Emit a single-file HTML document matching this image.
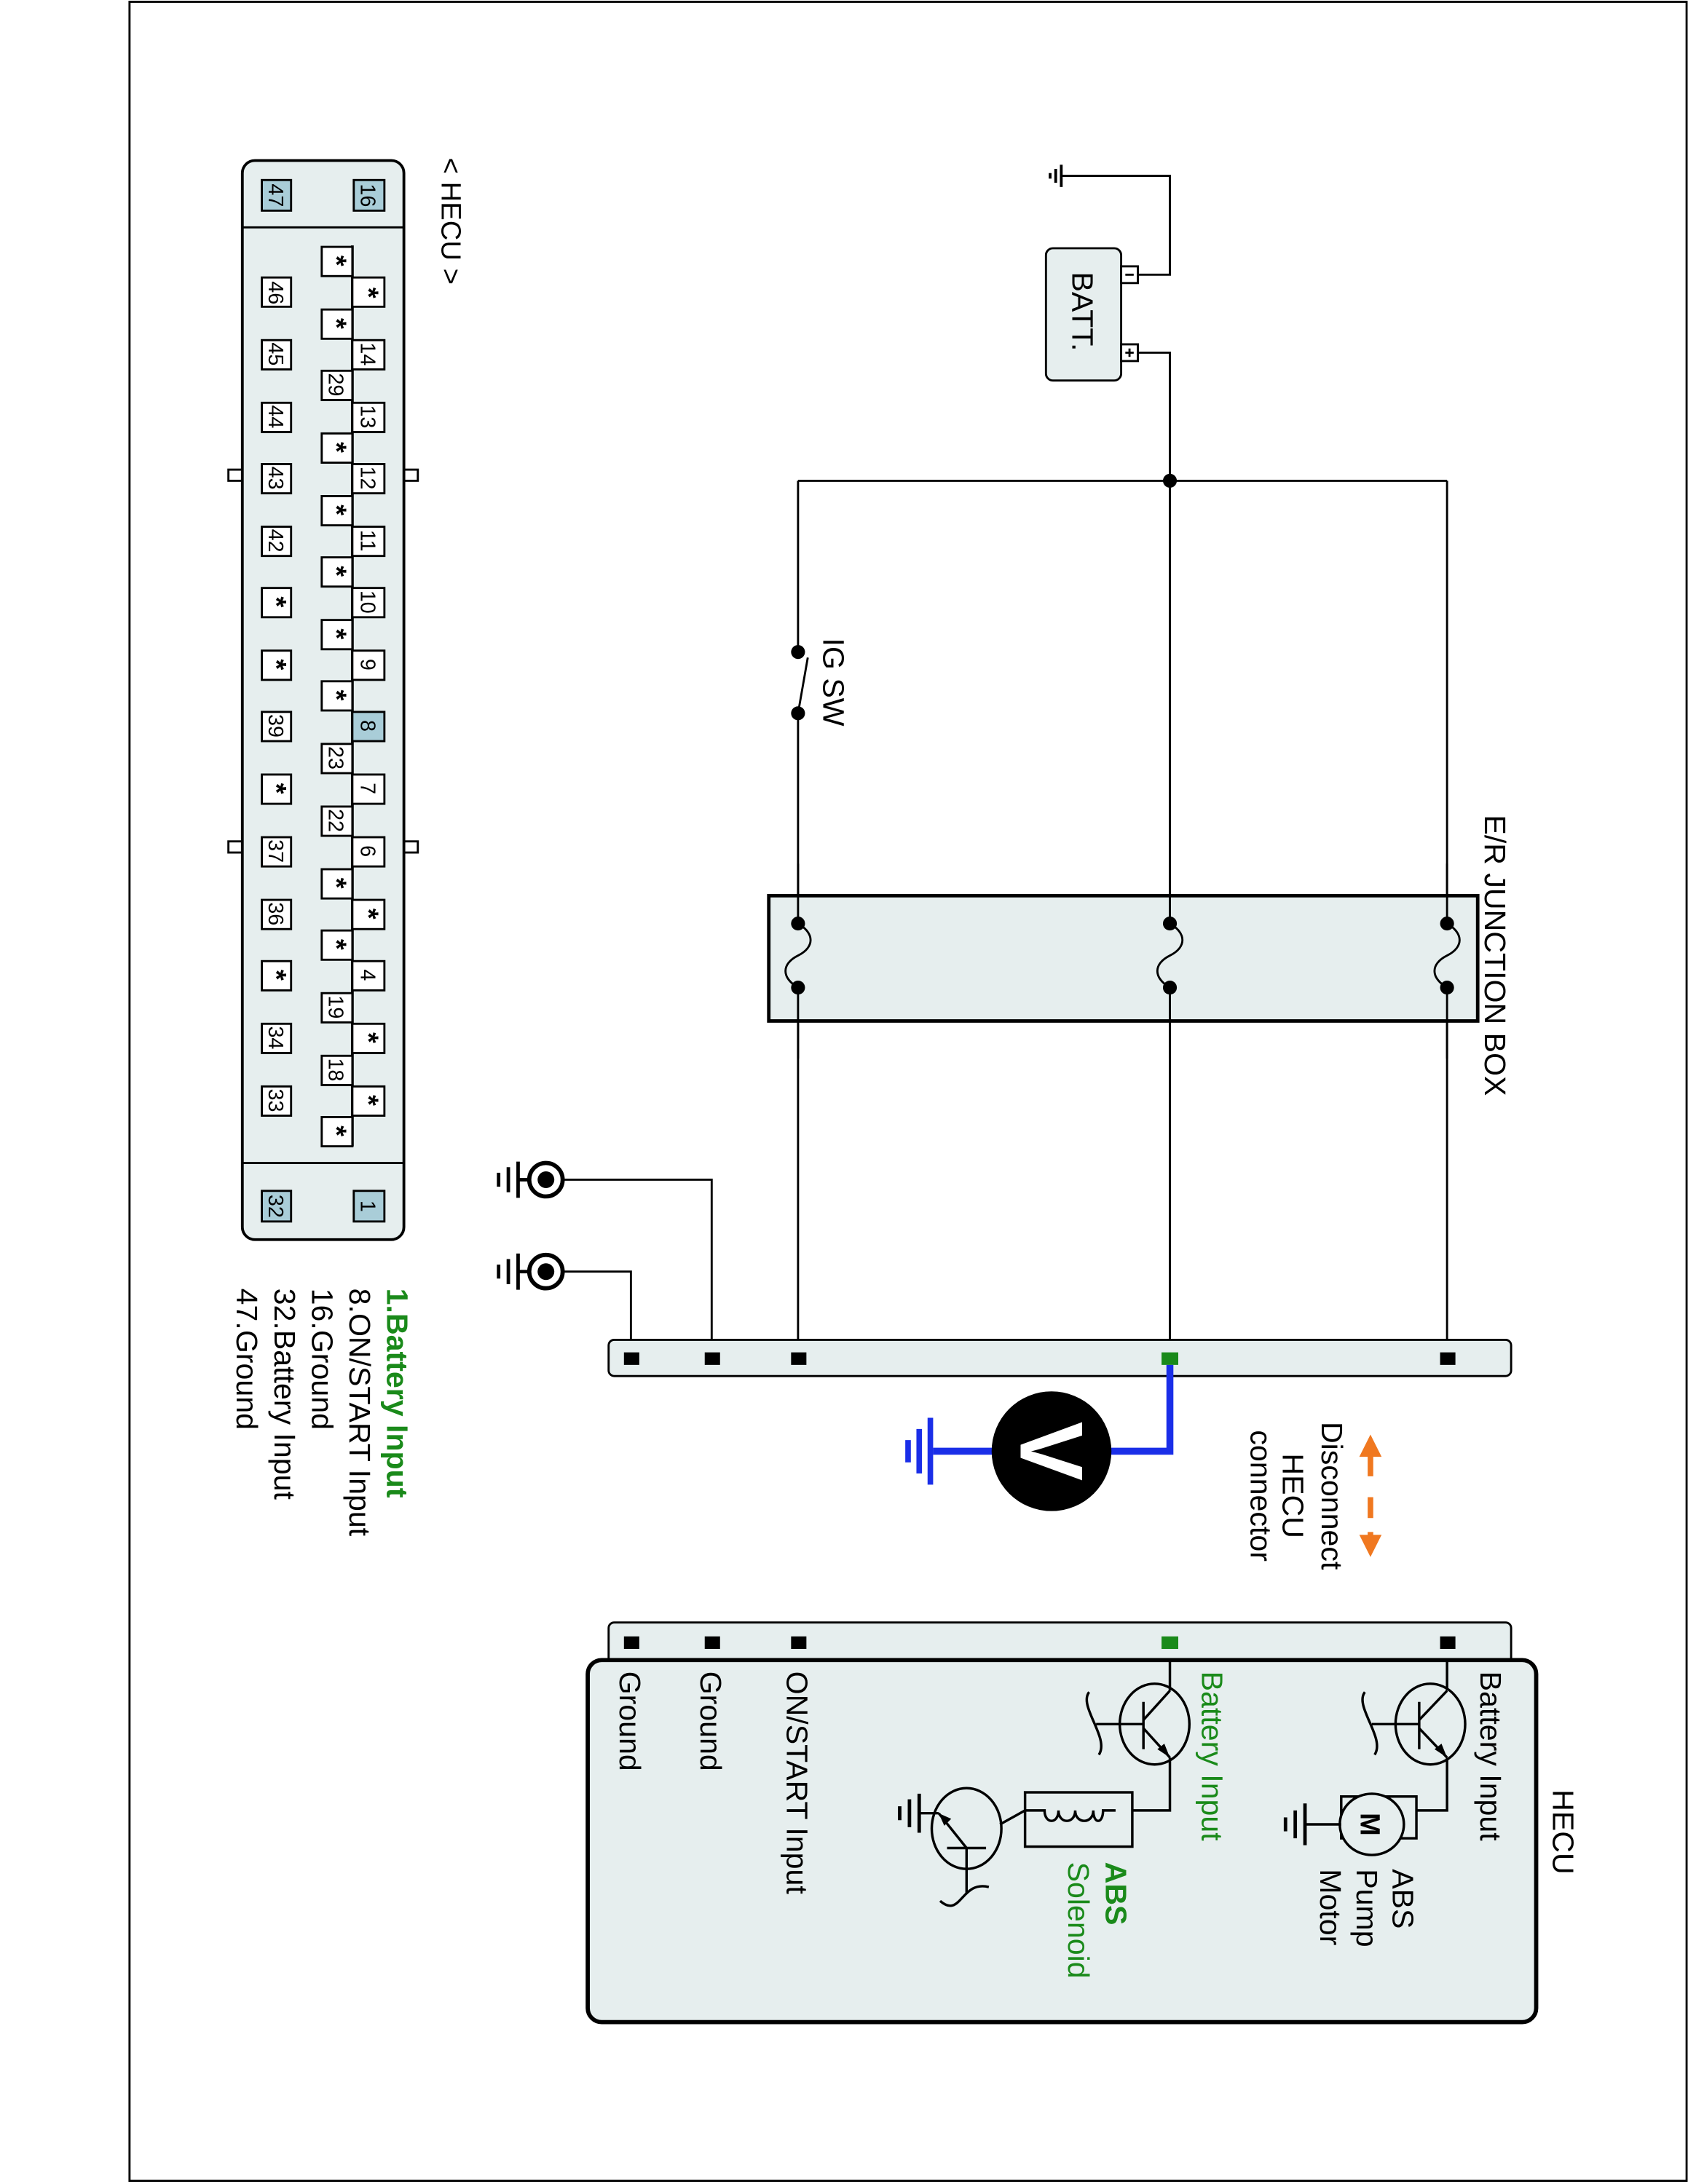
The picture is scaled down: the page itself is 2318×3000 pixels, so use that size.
<!DOCTYPE html>
<html><head><meta charset="utf-8"><style>
html,body{margin:0;padding:0;background:#fff;}
svg{display:block;}
text{font-family:"Liberation Sans",Arial,sans-serif;}
</style></head><body>
<svg width="2318" height="3000" viewBox="0 0 1212 1568" xmlns="http://www.w3.org/2000/svg">
<rect x="0" y="0" width="1212" height="1568" fill="#fff"/>
<rect x="93" y="1" width="1118" height="1565" fill="none" stroke="#000" stroke-width="1.5"/>

<g stroke="#000" stroke-width="1.5">
<rect x="164" y="337" width="10" height="8" fill="#fff"/>
<rect x="164" y="604" width="10" height="8" fill="#fff"/>
<rect x="290" y="337" width="10" height="8" fill="#fff"/>
<rect x="290" y="604" width="10" height="8" fill="#fff"/>
<rect x="174" y="115" width="116" height="775" rx="9" fill="#e6eeee" stroke-width="2"/>
<line x1="174" y1="163" x2="290" y2="163"/>
<line x1="174" y1="835" x2="290" y2="835"/>
<line x1="253" y1="176" x2="253" y2="823" stroke-width="2"/>
</g>
<g stroke="#000" stroke-width="1.5" fill="#fff">
<rect x="254" y="129" width="22" height="22" fill="#a9cdd8"/>
<rect x="188" y="129" width="21" height="22" fill="#a9cdd8"/>
<rect x="254" y="855" width="22" height="22" fill="#a9cdd8"/>
<rect x="188" y="855" width="21" height="22" fill="#a9cdd8"/>
<rect x="253" y="199" width="23" height="21"/><rect x="253" y="244" width="23" height="21"/><rect x="253" y="289" width="23" height="21"/><rect x="253" y="333" width="23" height="21"/><rect x="253" y="378" width="23" height="21"/><rect x="253" y="422" width="23" height="21"/><rect x="253" y="467" width="23" height="21"/><rect x="253" y="511" width="23" height="21" fill="#a9cdd8"/><rect x="253" y="556" width="23" height="21"/><rect x="253" y="601" width="23" height="21"/><rect x="253" y="646" width="23" height="21"/><rect x="253" y="690" width="23" height="21"/><rect x="253" y="735" width="23" height="21"/><rect x="253" y="780" width="23" height="21"/>
<rect x="231" y="177" width="22" height="21"/><rect x="231" y="222" width="22" height="21"/><rect x="231" y="266" width="22" height="21"/><rect x="231" y="311" width="22" height="21"/><rect x="231" y="356" width="22" height="21"/><rect x="231" y="400" width="22" height="21"/><rect x="231" y="445" width="22" height="21"/><rect x="231" y="489" width="22" height="21"/><rect x="231" y="534" width="22" height="21"/><rect x="231" y="579" width="22" height="21"/><rect x="231" y="624" width="22" height="21"/><rect x="231" y="668" width="22" height="21"/><rect x="231" y="713" width="22" height="21"/><rect x="231" y="758" width="22" height="21"/><rect x="231" y="802" width="22" height="21"/>
<rect x="188" y="199" width="21" height="21"/><rect x="188" y="244" width="21" height="21"/><rect x="188" y="289" width="21" height="21"/><rect x="188" y="333" width="21" height="21"/><rect x="188" y="378" width="21" height="21"/><rect x="188" y="422" width="21" height="21"/><rect x="188" y="467" width="21" height="21"/><rect x="188" y="511" width="21" height="21"/><rect x="188" y="556" width="21" height="21"/><rect x="188" y="601" width="21" height="21"/><rect x="188" y="646" width="21" height="21"/><rect x="188" y="690" width="21" height="21"/><rect x="188" y="735" width="21" height="21"/><rect x="188" y="780" width="21" height="21"/>
</g>
<g font-size="15" text-anchor="middle" fill="#000">
<text transform="translate(259,140) rotate(90)">16</text>
<text transform="translate(193,140) rotate(90)">47</text>
<text transform="translate(259,866) rotate(90)">1</text>
<text transform="translate(193,866) rotate(90)">32</text>
<text transform="translate(259,254) rotate(90)">14</text>
<text transform="translate(259,299) rotate(90)">13</text>
<text transform="translate(259,343) rotate(90)">12</text>
<text transform="translate(259,388) rotate(90)">11</text>
<text transform="translate(259,432) rotate(90)">10</text>
<text transform="translate(259,477) rotate(90)">9</text>
<text transform="translate(259,521) rotate(90)">8</text>
<text transform="translate(259,566) rotate(90)">7</text>
<text transform="translate(259,611) rotate(90)">6</text>
<text transform="translate(259,700) rotate(90)">4</text>
<text transform="translate(236,276) rotate(90)">29</text>
<text transform="translate(236,544) rotate(90)">23</text>
<text transform="translate(236,589) rotate(90)">22</text>
<text transform="translate(236,723) rotate(90)">19</text>
<text transform="translate(236,768) rotate(90)">18</text>
<text transform="translate(193,210) rotate(90)">46</text>
<text transform="translate(193,254) rotate(90)">45</text>
<text transform="translate(193,299) rotate(90)">44</text>
<text transform="translate(193,343) rotate(90)">43</text>
<text transform="translate(193,388) rotate(90)">42</text>
<text transform="translate(193,521) rotate(90)">39</text>
<text transform="translate(193,611) rotate(90)">37</text>
<text transform="translate(193,656) rotate(90)">36</text>
<text transform="translate(193,745) rotate(90)">34</text>
<text transform="translate(193,790) rotate(90)">33</text>
</g>
<g font-size="20" font-weight="bold" text-anchor="middle" fill="#000">
<text transform="translate(258,210) rotate(90)">*</text>
<text transform="translate(258,656) rotate(90)">*</text>
<text transform="translate(258,745) rotate(90)">*</text>
<text transform="translate(258,790) rotate(90)">*</text>
<text transform="translate(235,187) rotate(90)">*</text>
<text transform="translate(235,232) rotate(90)">*</text>
<text transform="translate(235,321) rotate(90)">*</text>
<text transform="translate(235,366) rotate(90)">*</text>
<text transform="translate(235,410) rotate(90)">*</text>
<text transform="translate(235,455) rotate(90)">*</text>
<text transform="translate(235,499) rotate(90)">*</text>
<text transform="translate(235,634) rotate(90)">*</text>
<text transform="translate(235,678) rotate(90)">*</text>
<text transform="translate(235,812) rotate(90)">*</text>
<text transform="translate(192,432) rotate(90)">*</text>
<text transform="translate(192,477) rotate(90)">*</text>
<text transform="translate(192,566) rotate(90)">*</text>
<text transform="translate(192,700) rotate(90)">*</text>
</g>
<text transform="translate(317,113) rotate(90)" font-size="20">&lt; HECU &gt;</text>

<g font-size="21.5">
<text transform="translate(278,925) rotate(90)" fill="#1a8a1a" font-weight="bold">1.Battery Input</text>
<text transform="translate(251,925) rotate(90)">8.ON/START Input</text>
<text transform="translate(224,925) rotate(90)">16.Ground</text>
<text transform="translate(197,925) rotate(90)">32.Battery Input</text>
<text transform="translate(170,925) rotate(90)">47.Ground</text>
</g>

<g stroke="#000" stroke-width="1.5" fill="none">
<rect x="751" y="178" width="54" height="95" rx="5" fill="#e6eeee"/>
<rect x="805" y="191" width="12" height="12" fill="#fff"/>
<rect x="805" y="247" width="12" height="12" fill="#fff"/>
<line x1="808" y1="197" x2="814" y2="197"/>
<line x1="808" y1="253" x2="814" y2="253"/><line x1="811" y1="250" x2="811" y2="256"/>
<polyline points="817,197 840,197 840,126 762,126"/>
<line x1="762" y1="118" x2="762" y2="134" stroke-width="2"/>
<line x1="758" y1="121" x2="758" y2="131" stroke-width="2"/>
<line x1="754" y1="124" x2="754" y2="128" stroke-width="2"/>
<polyline points="817,253 840,253 840,345"/>
<line x1="573" y1="345" x2="1039" y2="345"/>
<line x1="573" y1="345" x2="573" y2="468"/>
<line x1="573" y1="512" x2="573" y2="975"/>
<line x1="573" y1="512" x2="580" y2="472"/>
<line x1="840" y1="345" x2="840" y2="975"/>
<line x1="1039" y1="345" x2="1039" y2="975"/>
</g>
<text transform="translate(770,195) rotate(90)" font-size="21.5">BATT.</text>
<circle cx="840" cy="345" r="5" fill="#000"/>
<circle cx="573" cy="468" r="5" fill="#000"/>
<circle cx="573" cy="512" r="5" fill="#000"/>
<text transform="translate(591,458) rotate(90)" font-size="21.5">IG SW</text>

<rect x="552" y="643" width="509" height="90" fill="#e6eeee" stroke="#000" stroke-width="2.5"/>
<g stroke="#000" stroke-width="1.5" fill="none">
<line x1="573" y1="620" x2="573" y2="760"/>
<line x1="840" y1="620" x2="840" y2="760"/>
<line x1="1039" y1="620" x2="1039" y2="760"/>
</g>
<g fill="#e6eeee" stroke="none">
<rect x="565" y="665" width="20" height="42"/><rect x="832" y="665" width="20" height="42"/><rect x="1031" y="665" width="20" height="42"/>
</g>
<g stroke="#000" stroke-width="1.5" fill="none">
<path d="M573,663 C585,670 585,680 573,686 C561,692 561,702 573,709"/>
<path d="M840,663 C852,670 852,680 840,686 C828,692 828,702 840,709"/>
<path d="M1039,663 C1051,670 1051,680 1039,686 C1027,692 1027,702 1039,709"/>
</g>
<g fill="#000">
<circle cx="573" cy="663" r="5"/><circle cx="573" cy="709" r="5"/>
<circle cx="840" cy="663" r="5"/><circle cx="840" cy="709" r="5"/>
<circle cx="1039" cy="663" r="5"/><circle cx="1039" cy="709" r="5"/>
</g>
<text transform="translate(1066,585) rotate(90)" font-size="21.5">E/R JUNCTION BOX</text>

<g stroke="#000" stroke-width="1.5" fill="none">
<polyline points="404,847 511,847 511,975"/>
<polyline points="404,913 453,913 453,975"/>
<circle cx="392" cy="847" r="12" stroke-width="3"/>
<circle cx="392" cy="913" r="12" stroke-width="3"/>
<g stroke-width="2.5">
<line x1="380" y1="847" x2="372" y2="847"/>
<line x1="380" y1="913" x2="372" y2="913"/>
<line x1="372" y1="834" x2="372" y2="860"/><line x1="365" y1="838" x2="365" y2="856"/><line x1="358" y1="842" x2="358" y2="852"/>
<line x1="372" y1="900" x2="372" y2="926"/><line x1="365" y1="904" x2="365" y2="922"/><line x1="358" y1="908" x2="358" y2="918"/>
</g>
</g>
<circle cx="392" cy="847" r="6" fill="#000"/>
<circle cx="392" cy="913" r="6" fill="#000"/>

<rect x="437" y="962" width="648" height="26" rx="4" fill="#e6eeee" stroke="#000" stroke-width="1.5"/>
<g fill="#000">
<rect x="448" y="971" width="11" height="9"/><rect x="506" y="971" width="11" height="9"/><rect x="568" y="971" width="11" height="9"/><rect x="1034" y="971" width="11" height="9"/>
</g>
<rect x="834" y="971" width="12" height="9" fill="#1a8a1a"/>

<polyline points="840,980 840,1042 670,1042" fill="none" stroke="#1a2ee8" stroke-width="5"/>
<g stroke="#1a2ee8" stroke-width="4">
<line x1="668" y1="1018" x2="668" y2="1066"/>
<line x1="660" y1="1026" x2="660" y2="1058"/>
<line x1="652" y1="1034" x2="652" y2="1050"/>
</g>
<circle cx="755" cy="1042" r="43" fill="#000"/>
<text transform="translate(755,1042) rotate(90)" font-size="64" font-weight="bold" fill="#fff" text-anchor="middle" dominant-baseline="central">V</text>

<g stroke="#f07820" stroke-width="4" fill="#f07820">
<line x1="984" y1="1045" x2="984" y2="1060"/>
<line x1="984" y1="1075" x2="984" y2="1090"/>
<line x1="984" y1="1100" x2="984" y2="1104"/>
<polygon points="984,1030 976,1046 992,1046" stroke="none"/>
<polygon points="984,1118 976,1102 992,1102" stroke="none"/>
</g>
<g font-size="21.5" text-anchor="middle">
<text transform="translate(949,1074) rotate(90)">Disconnect</text>
<text transform="translate(921,1074) rotate(90)">HECU</text>
<text transform="translate(898,1074) rotate(90)">connector</text>
</g>

<rect x="437" y="1165" width="648" height="30" rx="4" fill="#e6eeee" stroke="#000" stroke-width="1.5"/>
<rect x="422" y="1192" width="681" height="260" rx="10" fill="#e6eeee" stroke="#000" stroke-width="3"/>
<g fill="#000">
<rect x="448" y="1175" width="11" height="9"/><rect x="506" y="1175" width="11" height="9"/><rect x="568" y="1175" width="11" height="9"/><rect x="1034" y="1175" width="11" height="9"/>
</g>
<rect x="834" y="1175" width="12" height="9" fill="#1a8a1a"/>
<text transform="translate(1115,1285) rotate(90)" font-size="21.5">HECU</text>

<g font-size="21.5">
<text transform="translate(1063,1200) rotate(90)">Battery Input</text>
<text transform="translate(863,1200) rotate(90)" fill="#1a8a1a">Battery Input</text>
<text transform="translate(565,1200) rotate(90)">ON/START Input</text>
<text transform="translate(503,1200) rotate(90)">Ground</text>
<text transform="translate(445,1200) rotate(90)">Ground</text>
<text transform="translate(1000,1342) rotate(90)">ABS</text>
<text transform="translate(974,1342) rotate(90)">Pump</text>
<text transform="translate(948,1342) rotate(90)">Motor</text>
<text transform="translate(794,1337) rotate(90)" fill="#1a8a1a" font-weight="bold">ABS</text>
<text transform="translate(767,1337) rotate(90)" fill="#1a8a1a">Solenoid</text>
</g>

<g stroke="#000" stroke-width="1.8" fill="none">
<line x1="1039" y1="1192" x2="1039" y2="1214"/>
<ellipse cx="1027" cy="1238" rx="25" ry="29"/>
<line x1="1019" y1="1222" x2="1019" y2="1256"/>
<line x1="985" y1="1238" x2="1019" y2="1238"/>
<line x1="1019" y1="1235" x2="1039" y2="1214"/>
<line x1="1019" y1="1241" x2="1039" y2="1262"/>
<path d="M980,1215 C972,1225 995,1248 987,1260"/>
<polyline points="1039,1262 1039,1300 1017,1300"/>
<rect x="963" y="1290" width="54" height="30" fill="#e6eeee"/>
<ellipse cx="985" cy="1310" rx="23" ry="22" fill="#e6eeee"/>
<line x1="963" y1="1310" x2="937" y2="1310"/>
<line x1="937" y1="1295" x2="937" y2="1325" stroke-width="2.5"/><line x1="930" y1="1300" x2="930" y2="1320" stroke-width="2.5"/><line x1="923" y1="1305" x2="923" y2="1315" stroke-width="2.5"/>
<line x1="840" y1="1192" x2="840" y2="1214"/>
<ellipse cx="829" cy="1238" rx="25" ry="29"/>
<line x1="821" y1="1222" x2="821" y2="1256"/>
<line x1="787" y1="1238" x2="821" y2="1238"/>
<line x1="821" y1="1235" x2="840" y2="1214"/>
<line x1="821" y1="1241" x2="840" y2="1262"/>
<path d="M782,1215 C774,1225 797,1248 789,1260"/>
<polyline points="840,1262 840,1300 813,1300"/>
<rect x="736" y="1287" width="77" height="39"/>
<path d="M801,1300 L792,1300 C792,1310 785,1310 785,1300 C785,1310 772,1310 772,1300 C772,1310 760,1310 760,1300 C760,1310 750,1310 750,1300 L736,1300"/>
<line x1="736" y1="1300" x2="718" y2="1310"/>
<ellipse cx="694" cy="1313" rx="25" ry="29"/>
<line x1="680" y1="1327" x2="708" y2="1327"/>
<line x1="694" y1="1327" x2="694" y2="1360"/>
<line x1="694" y1="1327" x2="674" y2="1302"/>
<line x1="674" y1="1302" x2="660" y2="1302"/>
<line x1="660" y1="1288" x2="660" y2="1316" stroke-width="2.5"/><line x1="653" y1="1292" x2="653" y2="1312" stroke-width="2.5"/><line x1="646" y1="1297" x2="646" y2="1307" stroke-width="2.5"/>
<path d="M675,1365 C690,1378 690,1350 710,1355"/>
</g>
<g fill="#000">
<polygon points="1039,1262 1030,1256 1035,1252"/>
<polygon points="840,1262 831,1256 836,1252"/>
<polygon points="674,1302 683,1306 678,1311"/>
</g>
<text transform="translate(977,1310) rotate(90)" font-size="20" font-weight="bold" text-anchor="middle">M</text>
</svg>
</body></html>
